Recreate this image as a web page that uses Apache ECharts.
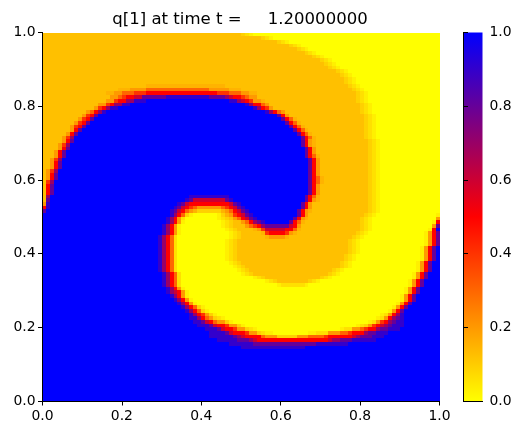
<!DOCTYPE html>
<html><head><meta charset="utf-8">
<style>html,body{margin:0;padding:0;background:#fff}#c{width:523px;height:435px}</style>
<script src="https://cdn.jsdelivr.net/npm/echarts@6/dist/echarts.min.js"></script>
</head><body><div id="c"></div>
<script>
const titleText = 'q[1] at time t =     1.20000000';
const colorStops = ['#ffff00', '#ff0000', '#0000ff'];
// q level for each letter
const levels = {a:0,b:.03,c:.06,d:.09,o:.123,p:.15,e:.2,f:.3,g:.4,h:.5,i:.6,j:.7,k:.8,l:.9,m:1};
// one run-length string per grid row, top row first (letter = level, number = cells)
const rowRuns = [
'o50 d1 c1 b1 a47','o55 d1 c1 b1 a42','o59 d1 c1 b1 a38','o62 d1 c1 b1 a35','o64 d1 c1 b1 a33',
'o66 d1 c1 b1 a31','o68 d1 c1 b1 a29','o70 d1 c1 b1 a27','o71 d1 c1 b1 a26','o72 d1 c1 b1 a25',
'o74 d1 c1 b1 a23','o75 d1 c1 b1 a22','o76 d1 c1 b1 a21','o76 d1 c1 b1 a21',
'o26 p20 o31 d1 c1 b1 a20',
'o19 p3 e4 f16 e5 p3 o28 d1 c1 b1 a19',
'o16 p2 e2 f3 g3 h18 g3 f3 e2 p2 o25 d1 c1 b1 a18',
'o17 e2 f1 g1 h2 i2 k6 l11 k4 j1 i1 h2 g1 f1 e2 o25 d1 c1 b1 a18',
'o16 e2 g1 h2 j2 l3 m21 l2 j1 i1 h1 g1 e2 p1 o23 d1 c1 b1 a18',
'o14 e2 g1 h1 j2 l2 m29 l1 j1 h2 f1 e1 o23 d1 c1 b1 a17',
'o13 e1 g1 h1 j1 l2 m34 l1 j1 h1 g1 e1 o22 d1 c1 b1 a17',
'o11 e1 f1 h1 j1 l1 m40 l1 j1 h1 f1 e1 o19 d1 c1 b1 a17',
'o10 e1 g1 h1 k1 m45 k1 h1 e1 o19 d1 c1 b1 a16',
'o9 e1 g1 h1 k1 m47 k1 h1 f1 p1 o17 d1 c1 b1 a16',
'o8 e1 g1 h1 k1 m49 k1 h1 f1 p1 o16 d1 c1 b1 a16',
'o7 e1 g1 h1 k1 m51 k1 h1 f1 p1 o15 d1 c1 b1 a16',
'o7 e1 h1 k1 m53 k1 h1 f1 p1 o14 d1 c1 b1 a16',
'o6 e1 h1 k1 m55 k1 h1 f1 p1 o13 d1 c1 b1 a16',
'o5 e1 g1 j1 m57 k1 h1 f1 p1 o12 d1 c1 b1 a16',
'o5 e1 h1 k1 m57 k1 h1 e1 p1 o13 d1 c1 b1 a15',
'o4 e1 g1 j1 m58 k1 h1 e1 p1 o13 d1 c1 b1 a15',
'o4 e1 h1 k1 m59 k1 h1 e1 o13 d1 c1 b1 a15',
'o3 e1 h1 k1 m60 k1 h1 e1 o13 d1 c1 b1 a15',
'o3 e1 h1 k1 m60 k1 h1 f1 p1 o12 d1 c1 b1 a15',
'o2 e1 g1 j1 m62 k1 h1 e1 o12 d1 c1 b1 a15',
'o2 e1 h1 k1 m62 k1 h1 e1 o12 d1 c1 b1 a15',
'o2 e1 h1 k1 m62 k1 h1 e1 o12 d1 c1 b1 a15',
'o1 e1 g1 j1 m63 k1 h1 e1 o12 d1 c1 b1 a15',
'o1 e1 h1 k1 m63 k1 h1 e1 o12 d1 c1 b1 a15',
'o1 e1 h1 k1 m63 k1 h1 f1 p1 o11 d1 c1 b1 a15',
'o1 g1 j1 m64 k1 h1 f1 p1 o11 d1 c1 b1 a15',
'o1 h1 k1 m64 k1 h1 e1 o12 d1 c1 b1 a15',
'o1 h1 k1 m64 k1 h1 e1 o12 d1 c1 b1 a15',
'o1 h1 k1 m64 k1 h1 e1 o12 d1 c1 b1 a15',
'o1 j1 m35 l10 m19 k1 h1 f1 p1 o12 d1 c1 b1 a15',
'o1 k1 m34 l1 k1 i8 k1 l1 m18 k1 h1 e1 p1 o12 d1 c1 b1 a15',
'e1 l1 m32 l1 k1 i1 h10 i1 k1 l1 m15 k1 h1 e1 o14 d1 c1 b1 a15',
'h1 l1 m31 l1 k1 i1 h1 g1 f1 e6 f1 g1 h1 i1 k1 l1 m14 k1 h1 e1 o14 d1 c1 b1 a15',
'k1 m31 l1 k1 i1 h1 f1 e1 p1 d6 p1 e1 f1 h1 i1 k1 l1 m12 k1 h1 e1 p1 o14 d1 c1 b1 a15',
'm32 l1 j1 h1 f1 d1 b1 a6 b1 d1 p1 e1 g1 h1 i1 k1 l1 m11 k1 h1 e1 o14 d1 c1 b1 a15 b1',
'm31 l1 j1 h1 e1 c1 a8 b1 c1 d1 o1 e1 f1 h1 i1 k1 l1 m9 k1 h1 e1 p1 o13 d1 c1 b1 a16 e1',
'm31 l1 j1 h1 e1 b1 a9 b1 c1 d1 o2 e1 f1 h1 j1 k1 l1 m6 k1 h1 f1 p1 o14 d1 c1 b1 a15 b1 h1',
'm30 l1 j1 h1 e1 b1 a10 b1 c1 d1 o3 e1 f1 g1 h1 j1 k6 i1 h1 e1 o15 d1 c1 b1 a15 e1 k1',
'm30 l1 j1 h1 e1 b1 a11 b1 c1 d1 o4 p1 e1 g1 i5 h2 f1 p1 o15 d1 c1 b1 a14 b1 h1 m1',
'm30 l1 j1 h1 e1 b1 a12 b1 c1 d1 o5 p1 g1 h4 g1 e1 p1 o15 d1 c1 b1 a14 b1 e1 h1 k1',
'm29 l1 j1 h1 f1 c1 a13 b1 c1 d1 o6 p1 e4 p1 o16 d1 c1 b1 a15 b1 e1 h1 k1',
'm29 l1 j1 h1 f1 c1 a12 b1 c1 d1 o28 d1 c1 b1 a16 b1 e1 h1 k1',
'm29 l1 j1 h1 f1 c1 a12 b1 c1 d1 o28 d1 c1 b1 a16 b1 e1 h1 k1',
'm29 l1 j1 h1 f1 c1 a12 b1 c1 d1 o28 d1 c1 b1 a15 b1 e1 h1 k1 m1',
'm29 l1 j1 h1 f1 c1 a12 b1 c1 d1 o28 d1 c1 b1 a15 b1 e1 h1 k1 m1',
'm29 l1 j1 h1 f1 c1 a12 b1 c1 d1 o27 d1 c1 b1 a16 b1 e1 h1 k1 m1',
'm29 l1 j1 h1 f1 c1 a12 b1 c1 d1 o27 d1 c1 b1 a16 b1 e1 h1 k1 m1',
'm29 l1 j1 h1 f1 c1 a13 b1 c1 d1 o25 d1 c1 b1 a16 b1 e1 h1 k1 m2',
'm29 l1 j1 h1 f1 c1 a14 b1 c1 d1 o24 d1 c1 b1 a16 b1 e1 h1 k1 m2',
'm29 l1 j1 h1 f1 c1 a15 b1 c1 d1 o21 d1 c1 b1 a18 b1 e1 h1 k1 m2',
'm30 l1 j1 h1 f1 c1 a15 b1 c1 d1 o19 d1 c1 b1 a18 b1 e1 h1 k1 m3',
'm30 l1 j1 h1 f1 c1 a18 b1 c1 d1 o14 d1 c1 b1 a20 b1 e1 h1 k1 m3',
'm30 l1 j1 h1 f1 c1 a21 b1 c1 d1 o8 d1 c1 b1 a22 b1 e1 h1 k1 m4',
'm30 l1 j1 h1 f1 c1 a24 b1 c6 b1 a25 b1 e1 h1 k1 m4',
'm31 l1 j1 h1 e1 b1 a55 b1 e1 h1 k1 m5',
'm31 l1 j1 i1 h1 e1 b1 a54 b1 e1 h1 k1 m5',
'm32 l1 j1 h1 e1 b1 a53 b1 e1 h1 k1 m6',
'm33 l1 j1 h1 e1 b1 a52 b1 e1 h1 k1 m6',
'm34 l1 j1 h1 e1 b1 a50 b1 e1 h1 k1 m7',
'm35 l1 j1 h1 f1 d1 b1 a47 b1 e1 h1 k1 m8',
'm36 l1 j1 h1 f1 d1 b1 a45 b1 e1 h1 k1 m9',
'm37 l1 j1 h1 g1 e1 d1 b1 a41 b1 c1 e1 h1 j1 l1 m9',
'm37 l2 j1 h1 f1 e1 d1 c1 b1 a38 b1 c1 e1 h1 j1 k1 l1 m9',
'm38 l2 k1 i1 h1 f1 e2 d1 b1 a34 b1 c1 e1 g1 h1 j1 k1 l2 m9',
'm39 l3 k1 i1 h2 g1 e2 d1 b1 a28 b1 c1 d1 e1 g1 h1 i1 j1 k1 l3 m9',
'm41 l3 k1 i1 h2 g1 e2 d1 c1 b1 a21 b1 c2 e2 f1 g1 h2 j1 k2 l3 m10',
'm42 l4 k1 i1 h3 g1 e2 d1 c1 b2 a9 b2 c3 e3 f2 g1 h3 j1 k2 l3 m13',
'm42 l6 k1 j1 i1 h4 f1 e3 d5 e3 f4 g1 h6 i1 j1 k3 l3 m14',
'm44 l5 k3 j1 i1 h18 i1 j2 k3 l6 m16',
'm47 l6 k16 l8 m23',
'm50 l16 m34',
'm100','m100','m100','m100','m100','m100','m100','m100','m100','m100','m100','m100','m100','m100'
];

const cols = 100;
const cells = [];
rowRuns.forEach(function (run, r) {
  let c = 0;
  run.split(' ').forEach(function (tok) {
    const n = parseInt(tok.slice(1), 10);
    for (let k = 0; k < n; k++) { cells.push([c, rowRuns.length - 1 - r, levels[tok[0]]]); c++; }
  });
  if (c !== cols) console.error('row ' + r + ' has ' + c + ' cells');
});
if (rowRuns.length !== 100) console.error('rows ' + rowRuns.length);

const fontFamily = '"DejaVu Sans"';
const lbl = {color:'#000', fontFamily: fontFamily, fontSize: 13.9, margin: 7, formatter: v => v.toFixed(1)};
const lblX = Object.assign({}, lbl, {margin: 8});
const line = {show:true, lineStyle:{color:'#000', width:1}};
const tick = {show:true, length:4.5, lineStyle:{color:'#000', width:1}};
const bare = {min:0, max:1, interval:0.2, type:'value', splitLine:{show:false}, z:5};
const blank = Object.assign({}, bare, {axisLine:line, axisTick:{show:false}, axisLabel:{show:false}});
const ticked = Object.assign({}, bare, {axisLine:line, axisTick:tick, axisLabel:lbl});
const tickedX = Object.assign({}, ticked, {axisLabel:lblX});

const chart = echarts.init(document.getElementById('c'), null, {renderer:'canvas'});
chart.setOption({
  animation:false,
  backgroundColor:'#fff',
  title:{text:titleText, left:235, top:6, textAlign:'center',
    textStyle:{fontFamily:fontFamily, fontSize:16.55, fontWeight:'normal', color:'#000'}},
  grid:[
    {left:42.5, top:32.5, width:397, height:368.5},
    {left:463.5, top:32.5, width:19, height:368.5}
  ],
  xAxis:[
    Object.assign({}, tickedX, {gridIndex:0, position:'bottom'}),
    Object.assign({}, blank, {gridIndex:0, position:'top'}),
    Object.assign({}, blank, {gridIndex:1, position:'bottom'}),
    Object.assign({}, blank, {gridIndex:1, position:'top'})
  ],
  yAxis:[
    Object.assign({}, ticked, {gridIndex:0, position:'left'}),
    Object.assign({}, blank, {gridIndex:0, position:'right'}),
    Object.assign({}, blank, {gridIndex:1, position:'left'}),
    Object.assign({}, ticked, {gridIndex:1, position:'right'})
  ],
  visualMap:{show:false, type:'continuous', min:0, max:1, dimension:2, seriesIndex:0,
    inRange:{color:colorStops}},
  series:[
    {type:'custom', xAxisIndex:0, yAxisIndex:0, coordinateSystem:'cartesian2d',
     silent:true, progressive:0, clip:true, data:cells, encode:{x:0,y:1},
     renderItem:function(params, api){
       const i = api.value(0), j = api.value(1);
       const p0 = api.coord([i/cols, (j+1)/rowRuns.length]);
       const p1 = api.coord([(i+1)/cols, j/rowRuns.length]);
       const x0 = Math.round(p0[0]), y0 = Math.round(p0[1]);
       const x1 = Math.round(p1[0]), y1 = Math.round(p1[1]);
       return {type:'rect', shape:{x:x0, y:y0, width:x1-x0, height:y1-y0},
               style:{fill:api.visual('color')}};
     }},
    {type:'custom', xAxisIndex:2, yAxisIndex:3, coordinateSystem:'cartesian2d',
     silent:true, data:[[0,0,1,1]], encode:{x:[0,2],y:[1,3]},
     renderItem:function(params, api){
       const p0 = api.coord([api.value(0), api.value(3)]);
       const p1 = api.coord([api.value(2), api.value(1)]);
       return {type:'rect', shape:{x:p0[0], y:p0[1], width:p1[0]-p0[0], height:p1[1]-p0[1]},
         style:{fill:new echarts.graphic.LinearGradient(0,1,0,0,[
           {offset:0,color:colorStops[0]},{offset:.5,color:colorStops[1]},{offset:1,color:colorStops[2]}])}};
     }}
  ]
});
</script></body></html>
